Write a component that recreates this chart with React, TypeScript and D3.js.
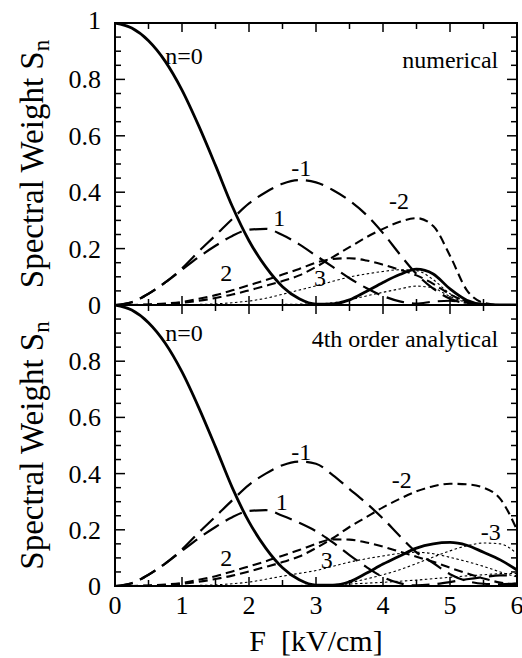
import React from "react";
import * as d3 from "d3";

// field values F [kV/cm], shared by every series
const fGrid = [0, 0.25, 0.5, 0.75, 1, 1.25, 1.5, 1.75, 2, 2.25, 2.5, 2.75, 3, 3.25, 3.5, 3.75, 4, 4.25, 4.5, 4.75, 5, 5.25, 5.5, 5.75, 6];

// upper panel: numerical
const numN0 = [1.0, 0.982, 0.937, 0.864, 0.762, 0.635, 0.495, 0.35, 0.228, 0.135, 0.065, 0.022, 0.003, 0.004, 0.018, 0.048, 0.08, 0.108, 0.127, 0.11, 0.057, 0.017, 0.002, 0, 0];
const numNm1 = [0, 0.01, 0.04, 0.08, 0.13, 0.19, 0.247, 0.305, 0.36, 0.4, 0.43, 0.443, 0.435, 0.408, 0.37, 0.32, 0.255, 0.18, 0.11, 0.058, 0.022, 0.006, 0, 0, 0];
const numN1 = [0, 0.01, 0.04, 0.08, 0.125, 0.17, 0.21, 0.245, 0.267, 0.27, 0.248, 0.215, 0.175, 0.135, 0.095, 0.06, 0.032, 0.013, 0.005, 0.012, 0.015, 0.008, 0, 0, 0];
const numNm2 = [0, 0, 0.001, 0.003, 0.008, 0.015, 0.025, 0.037, 0.052, 0.068, 0.085, 0.105, 0.135, 0.17, 0.205, 0.24, 0.27, 0.295, 0.308, 0.28, 0.175, 0.053, 0.008, 0, 0];
const numN2 = [0, 0, 0.002, 0.005, 0.011, 0.022, 0.035, 0.052, 0.07, 0.088, 0.108, 0.128, 0.15, 0.163, 0.166, 0.158, 0.143, 0.125, 0.105, 0.075, 0.038, 0.012, 0.002, 0, 0];
const numN3 = [0, 0, 0, 0, 0.001, 0.002, 0.004, 0.008, 0.014, 0.024, 0.038, 0.053, 0.068, 0.084, 0.099, 0.11, 0.119, 0.125, 0.122, 0.09, 0.04, 0.012, 0.002, 0, 0];
const numNm3 = [0, 0, 0, 0, 0, 0, 0, 0.001, 0.001, 0.002, 0.002, 0.003, 0.004, 0.008, 0.018, 0.032, 0.045, 0.057, 0.067, 0.06, 0.03, 0.01, 0.002, 0, 0];

// lower panel: 4th order analytical
const anaN0 = [1.0, 0.982, 0.937, 0.864, 0.762, 0.635, 0.495, 0.35, 0.228, 0.135, 0.065, 0.022, 0.003, 0.003, 0.015, 0.045, 0.078, 0.107, 0.135, 0.15, 0.155, 0.145, 0.12, 0.093, 0.057];
const anaNm1 = [0, 0.01, 0.04, 0.08, 0.13, 0.19, 0.247, 0.305, 0.36, 0.4, 0.43, 0.443, 0.435, 0.395, 0.345, 0.295, 0.24, 0.178, 0.12, 0.082, 0.042, 0.018, 0.008, 0.006, 0.01];
const anaN1 = [0, 0.01, 0.04, 0.08, 0.125, 0.17, 0.21, 0.245, 0.267, 0.27, 0.25, 0.225, 0.195, 0.155, 0.11, 0.068, 0.032, 0.01, 0.002, 0.006, 0.014, 0.024, 0.032, 0.038, 0.036];
const anaNm2 = [0, 0, 0.001, 0.003, 0.008, 0.015, 0.025, 0.037, 0.052, 0.068, 0.085, 0.105, 0.135, 0.17, 0.21, 0.245, 0.28, 0.31, 0.337, 0.355, 0.364, 0.362, 0.35, 0.31, 0.2];
const anaN2 = [0, 0, 0.002, 0.005, 0.011, 0.022, 0.035, 0.052, 0.07, 0.088, 0.108, 0.128, 0.15, 0.166, 0.165, 0.155, 0.14, 0.122, 0.104, 0.086, 0.065, 0.045, 0.027, 0.012, 0.005];
const anaN3 = [0, 0, 0, 0, 0.001, 0.002, 0.004, 0.008, 0.014, 0.024, 0.035, 0.045, 0.055, 0.07, 0.085, 0.097, 0.107, 0.116, 0.12, 0.115, 0.102, 0.087, 0.07, 0.05, 0.032];
const anaNm3 = [0, 0, 0, 0, 0, 0, 0, 0, 0.001, 0.001, 0.002, 0.002, 0.003, 0.005, 0.012, 0.025, 0.04, 0.058, 0.08, 0.103, 0.125, 0.143, 0.153, 0.15, 0.115];
const anaN4 = [0, 0, 0, 0, 0, 0, 0, 0, 0, 0, 0, 0.001, 0.002, 0.004, 0.007, 0.01, 0.013, 0.017, 0.021, 0.026, 0.031, 0.036, 0.04, 0.044, 0.045];

const xTickLabels = ["0", "1", "2", "3", "4", "5", "6"];
const yTickLabelsTop = ["0", "0.2", "0.4", "0.6", "0.8", "1"];
const yTickLabelsBottom = ["0", "0.2", "0.4", "0.6", "0.8"];

const W = 522;
const H = 658;
const LEFT = 115;
const RIGHT = 517;
// Liberation Serif has Times metrics
const serif = { fontFamily: "'Liberation Serif', 'Times New Roman', serif" };

const lineStyle: any = {
  solid: { w: 2.8, dash: undefined },
  long: { w: 2.2, dash: "18 8" },
  medium: { w: 2.1, dash: "9 5" },
  dot: { w: 1.1, dash: "2.5 2.5" },
};

const topSeries = [
  { v: numN3, kind: "dot" },
  { v: numNm3, kind: "dot" },
  { v: numN2, kind: "medium" },
  { v: numNm2, kind: "medium" },
  { v: numN1, kind: "long" },
  { v: numNm1, kind: "long" },
  { v: numN0, kind: "solid" },
];
const bottomSeries = [
  { v: anaN4, kind: "dot" },
  { v: anaN3, kind: "dot" },
  { v: anaNm3, kind: "dot" },
  { v: anaN2, kind: "medium" },
  { v: anaNm2, kind: "medium" },
  { v: anaN1, kind: "long" },
  { v: anaNm1, kind: "long" },
  { v: anaN0, kind: "solid" },
];

// annotation text with its anchor in data units (F, S)
const topNotes = [
  { t: "n=0", f: 0.75, s: 0.855, a: "start" },
  { t: "numerical", f: 5.72, s: 0.84, a: "end" },
  { t: "-1", f: 2.78, s: 0.457, a: "middle" },
  { t: "1", f: 2.45, s: 0.28, a: "middle" },
  { t: "-2", f: 4.24, s: 0.34, a: "middle" },
  { t: "2", f: 1.66, s: 0.085, a: "middle" },
  { t: "3", f: 3.06, s: 0.067, a: "middle" },
];
const bottomNotes = [
  { t: "n=0", f: 0.75, s: 0.872, a: "start" },
  { t: "4th order analytical", f: 5.72, s: 0.85, a: "end" },
  { t: "-1", f: 2.78, s: 0.448, a: "middle" },
  { t: "1", f: 2.49, s: 0.27, a: "middle" },
  { t: "-2", f: 4.28, s: 0.349, a: "middle" },
  { t: "2", f: 1.66, s: 0.071, a: "middle" },
  { t: "3", f: 3.16, s: 0.064, a: "middle" },
  { t: "-3", f: 5.61, s: 0.164, a: "middle" },
];

const Panel = ({ y0, y1, series, notes, yLabels, id }: any) => {
  const x = d3.scaleLinear().domain([0, 6]).range([LEFT, RIGHT]);
  const y = d3.scaleLinear().domain([0, 1]).range([y1, y0]);
  const line = d3
    .line<number>()
    .x((d, i) => x(fGrid[i]))
    .y((d) => y(d))
    .curve(d3.curveMonotoneX);

  const xt = x.ticks(12);
  const yt = y.ticks(20);
  const isInt = (v: number) => Math.abs(v - Math.round(v)) < 1e-6;
  const isMajorY = (v: number) => Math.abs(v * 5 - Math.round(v * 5)) < 1e-6;

  return (
    <g>
      <defs>
        <clipPath id={id}>
          <rect x={LEFT} y={y0} width={RIGHT - LEFT} height={y1 - y0} />
        </clipPath>
      </defs>
      <g clipPath={`url(#${id})`}>
        {series.map((s: any, i: number) => (
          <path
            key={i}
            d={line(s.v) || ""}
            fill="none"
            stroke="#000"
            strokeWidth={lineStyle[s.kind].w}
            strokeDasharray={lineStyle[s.kind].dash}
          />
        ))}
      </g>
      {xt.map((v) => {
        const len = isInt(v) ? 9 : 6;
        return (
          <g key={"x" + v} stroke="#000" strokeWidth={1.5}>
            <line x1={x(v)} x2={x(v)} y1={y0} y2={y0 + len} />
            <line x1={x(v)} x2={x(v)} y1={y1} y2={y1 - len} />
          </g>
        );
      })}
      {yt.map((v) => {
        const len = isMajorY(v) ? 10 : 6;
        return (
          <g key={"y" + v} stroke="#000" strokeWidth={1.5}>
            <line x1={LEFT} x2={LEFT + len} y1={y(v)} y2={y(v)} />
            <line x1={RIGHT} x2={RIGHT - len} y1={y(v)} y2={y(v)} />
          </g>
        );
      })}
      <rect x={LEFT} y={y0} width={RIGHT - LEFT} height={y1 - y0} fill="none" stroke="#000" strokeWidth={2} />
      {yLabels.map((t: string) => (
        <text key={t} x={101} y={y(+t) + (t === "1" ? 6 : 9)} textAnchor="end" fontSize={26} style={serif}>
          {t}
        </text>
      ))}
      {notes.map((n: any) => (
        <text key={n.t} x={x(n.f)} y={y(n.s)} textAnchor={n.a} fontSize={24} style={serif}>
          {n.t}
        </text>
      ))}
      <text
        transform={`translate(43,${(y0 + y1) / 2}) rotate(-90)`}
        textAnchor="middle"
        fontSize={33}
        style={serif}
      >
        Spectral Weight S<tspan dy={6} fontSize={23}>n</tspan>
      </text>
    </g>
  );
};

export default function App() {
  const x = d3.scaleLinear().domain([0, 6]).range([LEFT, RIGHT]);
  return (
    <svg width={W} height={H} style={{ position: "absolute", left: 0, top: 0, background: "#fff" }}>
      <rect width={W} height={H} fill="#fff" />
      <Panel id="clipTop" y0={23} y1={305} series={topSeries} notes={topNotes} yLabels={yTickLabelsTop} />
      <Panel id="clipBot" y0={305} y1={586} series={bottomSeries} notes={bottomNotes} yLabels={yTickLabelsBottom} />
      {xTickLabels.map((t) => (
        <text key={t} x={x(+t)} y={614} textAnchor="middle" fontSize={26} style={serif}>
          {t}
        </text>
      ))}
      <text x={(LEFT + RIGHT) / 2} y={651} textAnchor="middle" fontSize={30} style={{ ...serif, whiteSpace: "pre" }}>
        {"F  [kV/cm]"}
      </text>
    </svg>
  );
}
